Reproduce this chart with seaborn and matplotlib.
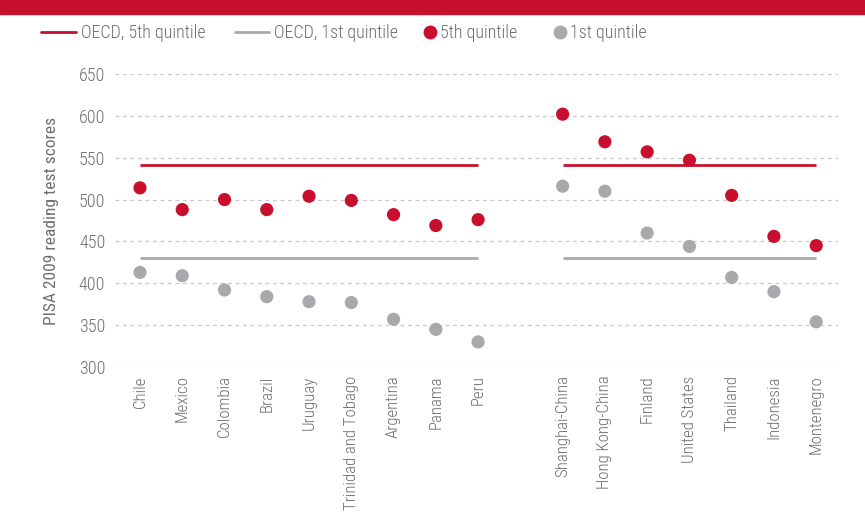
import numpy as np
import pandas as pd
import matplotlib.pyplot as plt
import seaborn as sns
from matplotlib.lines import Line2D
from matplotlib import font_manager

# data
latam = ["Chile", "Mexico", "Colombia", "Brazil", "Uruguay",
         "Trinidad and Tobago", "Argentina", "Panama", "Peru"]
latam_q5 = [514, 488, 500, 488, 504, 499, 482, 469, 476]
latam_q1 = [413, 409, 392, 384, 378, 377, 357, 345, 330]

others = ["Shanghai-China", "Hong Kong-China", "Finland", "United States",
          "Thailand", "Indonesia", "Montenegro"]
others_q5 = [602, 569, 557, 547, 505, 456, 445]
others_q1 = [516, 510, 460, 444, 407, 390, 354]

oecd_q5 = 541
oecd_q1 = 430

RED = "#c8102e"
GREY = "#a7a9ac"
TXT = "#6d6e71"

sns.set_style("white")
names = {f.name for f in font_manager.fontManager.ttflist}
fam = "DejaVu Sans"
for cand in ["Roboto Condensed", "Liberation Sans Narrow", "Open Sans Condensed"]:
    if cand in names:
        fam = cand
        break
plt.rcParams["font.family"] = [fam, "DejaVu Sans"]
plt.rcParams["font.stretch"] = "condensed"
plt.rcParams["font.weight"] = "light"

order = latam + [""] + others
df = pd.DataFrame({
    "country": latam * 2 + others * 2,
    "score": latam_q5 + latam_q1 + others_q5 + others_q1,
    "group": ["5th quintile"] * 9 + ["1st quintile"] * 9
             + ["5th quintile"] * 7 + ["1st quintile"] * 7,
})

fig = plt.figure(figsize=(8.65, 5.27), dpi=100)
ax = fig.add_axes([0.133, 0.3036, 0.836, 0.556])

# OECD reference lines per group
for grp in (latam, others):
    i0, i1 = order.index(grp[0]), order.index(grp[-1])
    ax.hlines(oecd_q5, i0, i1, color=RED, lw=2, zorder=2)
    ax.hlines(oecd_q1, i0, i1, color=GREY, lw=2, zorder=2)

sns.stripplot(data=df, x="country", y="score", hue="group", order=order,
              palette={"5th quintile": RED, "1st quintile": GREY},
              jitter=False, size=9.5, linewidth=0, ax=ax, legend=False, zorder=3)

ax.set_ylim(300, 650)
ax.set_yticks(range(300, 651, 50))
ax.set_xlim(-0.59, 16.52)
ax.grid(axis="y", linestyle=(0, (3, 3)), color="#c8c8c8", lw=0.9)
ax.set_axisbelow(True)
sns.despine(ax=ax, left=True, bottom=True)
ax.tick_params(length=0, colors=TXT, labelsize=13)
ax.tick_params(axis="x", labelsize=12.2, pad=6)
ax.tick_params(axis="y", pad=7)
plt.setp(ax.get_xticklabels(), rotation=90)
ax.set_xlabel("")
ax.set_ylabel("PISA 2009 reading test scores", color=TXT, fontsize=12.5, labelpad=14)

# red title band at the top (title text cut off in the source)
fig.patches.append(plt.Rectangle((0, 1 - 14 / 527), 1, 14 / 527,
                                 transform=fig.transFigure, color=RED, zorder=0))

line_handles = [Line2D([], [], color=RED, lw=2), Line2D([], [], color=GREY, lw=2)]
dot_handles = [Line2D([], [], marker="o", color=RED, ls="", markersize=9),
               Line2D([], [], marker="o", color=GREY, ls="", markersize=9)]
leg1 = fig.legend(line_handles, ["OECD, 5th quintile", "OECD, 1st quintile"],
                  loc="center left", bbox_to_anchor=(0.029, 0.937), ncol=2,
                  frameon=False, fontsize=13, handlelength=1.9,
                  handletextpad=0.3, columnspacing=1.6)
leg2 = fig.legend(dot_handles, ["5th quintile", "1st quintile"],
                  loc="center left", bbox_to_anchor=(0.471, 0.937), ncol=2,
                  frameon=False, fontsize=13, handlelength=0.7,
                  handletextpad=0.2, columnspacing=2.0)
for leg in (leg1, leg2):
    for t in leg.get_texts():
        t.set_color(TXT)

fig.savefig("out.png", dpi=100)
